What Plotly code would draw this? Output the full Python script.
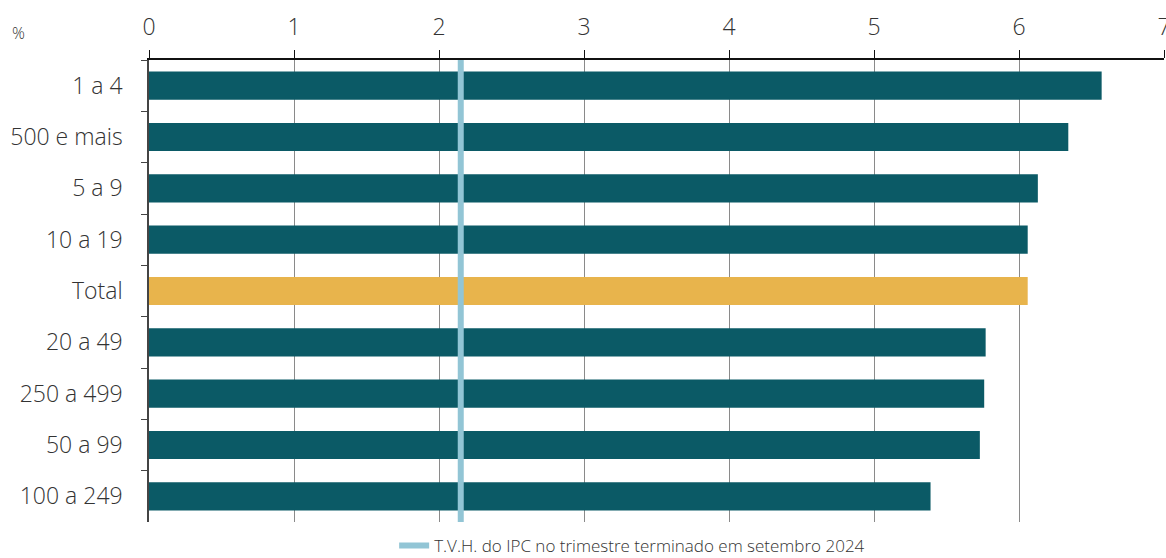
import plotly.graph_objects as go

categories = ["1 a 4", "500 e mais", "5 a 9", "10 a 19", "Total", "20 a 49", "250 a 499", "50 a 99", "100 a 249"]
values = [6.57, 6.34, 6.13, 6.06, 6.06, 5.77, 5.76, 5.73, 5.39]
ipc_value = 2.15
ipc_label = "T.V.H. do IPC no trimestre terminado em setembro 2024"

teal = "#0B5A66"
gold = "#E8B44C"
light_blue = "#92C5D5"
colors = [gold if c == "Total" else teal for c in categories]

fig = go.Figure()
fig.add_trace(go.Bar(
    y=categories, x=values, orientation="h",
    marker=dict(color=colors, line=dict(width=0)),
    width=0.55, showlegend=False, hoverinfo="x+y",
))
fig.add_trace(go.Scatter(
    x=[ipc_value, ipc_value], y=[-0.005, 1.0], yaxis="y2",
    mode="lines", line=dict(color=light_blue, width=6),
    name=ipc_label, showlegend=True,
))

fam = "Open Sans, Lato, sans-serif"
font = dict(family=fam, size=23, color="#333333", weight=300)
fig.update_layout(
    width=1166, height=558,
    margin=dict(l=149, r=2, t=60, b=36),
    paper_bgcolor="white", plot_bgcolor="white",
    font=font,
    xaxis=dict(
        side="top", range=[0, 7], dtick=1, tick0=0,
        showgrid=True, gridcolor="#8a8a8a", gridwidth=1,
        showline=True, linecolor="#111111", linewidth=1.5,
        ticks="outside", ticklen=8, tickcolor="#111111",
        zeroline=False, tickfont=font, automargin=False,
        ticklabelstandoff=6, ticklabeloverflow="allow",
    ),
    yaxis=dict(
        autorange="reversed", type="category",
        showline=True, linecolor="#444444", linewidth=1.5,
        ticks="outside", tickson="boundaries", ticklen=6, tickcolor="#444444",
        showgrid=False, tickfont=font, automargin=False,
        ticklabelstandoff=20,
    ),
    yaxis2=dict(
        overlaying="y", range=[0, 1], visible=False, fixedrange=True,
    ),
    legend=dict(
        orientation="h", x=0.476, xanchor="center",
        yref="container", y=1 - 546 / 558, yanchor="middle",
        font=dict(family=fam, size=17, color="#333333", weight=300),
        bgcolor="rgba(0,0,0,0)",
    ),
    annotations=[dict(
        text="%", xref="paper", yref="paper", x=-0.137, y=1.058,
        xanchor="left", yanchor="middle", showarrow=False,
        font=dict(family=fam, size=16, color="#333333", weight=300),
    )],
)

fig.write_html("out.html", config={"displayModeBar": False},
               post_script="document.body.style.margin='0';")
